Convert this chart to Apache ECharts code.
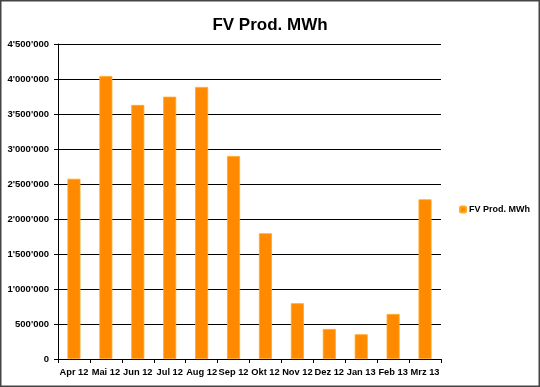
<!DOCTYPE html>
<html>
<head>
<meta charset="utf-8">
<script src="https://cdn.jsdelivr.net/npm/echarts@6/dist/echarts.min.js"></script>
<style>html,body{margin:0;padding:0;background:#fff}#c{width:540px;height:387px}</style>
</head>
<body>
<div id="c"></div>
<script>
var categories = ['Apr 12','Mai 12','Jun 12','Jul 12','Aug 12','Sep 12','Okt 12','Nov 12','Dez 12','Jan 13','Feb 13','Mrz 13'];
var production = [2575000, 4043000, 3629000, 3747000, 3886000, 2900000, 1796000, 796000, 429000, 353000, 643000, 2281000];
var seriesName = 'FV Prod. MWh';
var chartTitle = 'FV Prod. MWh';

function fmt(v){
  return String(v).replace(/\B(?=(\d{3})+(?!\d))/g, "'");
}

var chart = echarts.init(document.getElementById('c'), null, {renderer:'canvas'});
chart.setOption({
  animation: false,
  backgroundColor: '#fff',
  title: {
    text: chartTitle, left: 'center', top: 12,
    textStyle: {fontFamily: 'Liberation Sans', fontWeight: 'bold', fontSize: 17, color: '#000'}
  },
  legend: {
    data: [seriesName], orient: 'vertical', left: 459, top: 205, padding: 0,
    itemWidth: 6, itemHeight: 6, itemGap: 4,
    textStyle: {fontFamily: 'Liberation Sans', fontWeight: 'bold', fontSize: 9, color: '#000', padding: [0,0,0,-2]}
  },
  grid: {left: 58, right: 99, top: 44, bottom: 28},
  xAxis: {
    type: 'category', data: categories,
    axisLine: {lineStyle: {color: '#000', width: 1}},
    axisTick: {show: true, length: 4, lineStyle: {color: '#000'}},
    axisLabel: {fontFamily: 'Liberation Sans', fontWeight: 'bold', fontSize: 9.3, color: '#000', margin: 9, interval: 0}
  },
  yAxis: {
    type: 'value', min: 0, max: 4500000, interval: 500000,
    axisLine: {show: true, lineStyle: {color: '#000', width: 1}},
    axisTick: {show: true, length: 4, lineStyle: {color: '#000'}},
    splitLine: {show: true, lineStyle: {color: '#000', width: 1}},
    axisLabel: {fontFamily: 'Liberation Sans', fontWeight: 'bold', fontSize: 9.5, color: '#000', margin: 9, formatter: fmt}
  },
  series: [{
    name: seriesName, type: 'bar', data: production, barWidth: 13,
    itemStyle: {color: '#FF8A00', borderColor: '#FFA820', borderWidth: 0.8}
  }],
  graphic: [{
    type: 'rect', silent: true, z: 100,
    shape: {x: 0.75, y: 0.75, width: 538.5, height: 385.5},
    style: {fill: 'none', stroke: '#444', lineWidth: 1.5}
  }]
});
</script>
</body>
</html>
